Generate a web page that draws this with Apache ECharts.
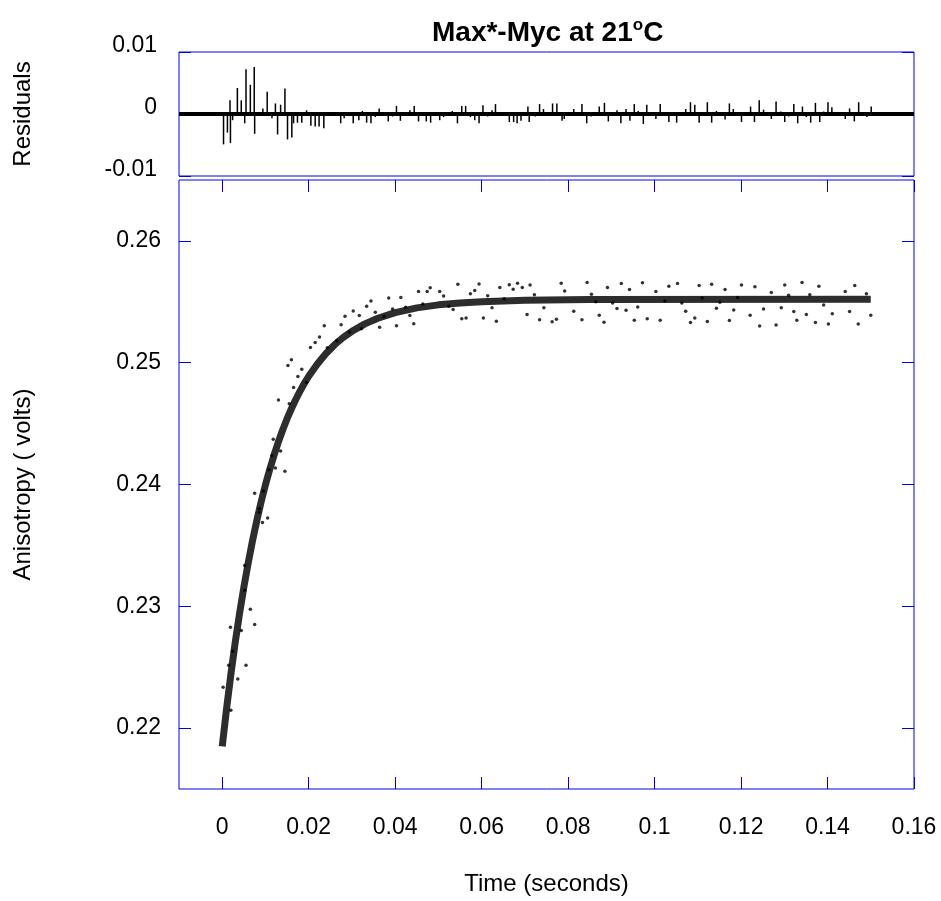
<!DOCTYPE html>
<html><head><meta charset="utf-8">
<script src="https://cdn.jsdelivr.net/npm/echarts@6/dist/echarts.min.js"></script>
<style>html,body{margin:0;padding:0;background:#fff}#c{width:941px;height:901px}</style>
</head><body><div id="c"></div>
<script>
// ---- data ----
const xTickValues = [0, 0.02, 0.04, 0.06, 0.08, 0.1, 0.12, 0.14, 0.16];
const xTickLabels = ['0', '0.02', '0.04', '0.06', '0.08', '0.1', '0.12', '0.14', '0.16'];
const yTickValues = [0.22, 0.23, 0.24, 0.25, 0.26];
const yTickLabels = ['0.22', '0.23', '0.24', '0.25', '0.26'];
const resTickValues = [-0.01, 0, 0.01];
const resTickLabels = ['-0.01', '0', '0.01'];

// measured anisotropy points [time (s), volts]
const anisotropyPoints = [
[0.0002,0.22336],[0.0015,0.22515],[0.0019,0.22829],[0.0020,0.22146],[0.0024,0.22631],[0.0036,0.22403],
[0.0044,0.22802],[0.0052,0.23336],[0.0052,0.23132],[0.0055,0.22515],[0.0065,0.22976],[0.0075,0.23929],
[0.0075,0.22850],[0.0085,0.23772],[0.0086,0.23802],[0.0093,0.23688],[0.0095,0.23946],[0.0105,0.23724],
[0.0108,0.24122],[0.0115,0.24236],[0.0118,0.24371],[0.0123,0.24135],[0.0130,0.24693],[0.0135,0.24276],
[0.0145,0.24108],[0.0152,0.24976],[0.0155,0.24663],[0.0160,0.25024],[0.0165,0.24797],[0.0175,0.24886],
[0.0184,0.24946],[0.0195,0.24837],[0.0204,0.25124],[0.0215,0.25165],[0.0225,0.25211],[0.0236,0.25303],
[0.0243,0.25122],[0.0265,0.25181],[0.0275,0.25311],[0.0284,0.25382],[0.0294,0.25252],[0.0303,0.25425],
[0.0317,0.25387],[0.0322,0.25279],[0.0334,0.25463],[0.0344,0.25506],[0.0354,0.25414],[0.0364,0.25292],
[0.0374,0.25379],[0.0385,0.25531],[0.0394,0.25441],[0.0403,0.25303],[0.0413,0.25536],[0.0424,0.25455],
[0.0434,0.25387],[0.0443,0.25320],[0.0454,0.25585],[0.0464,0.25482],[0.0474,0.25585],[0.0481,0.25615],
[0.0503,0.25585],[0.0512,0.25547],[0.0524,0.25463],[0.0534,0.25436],[0.0545,0.25645],[0.0554,0.25360],
[0.0564,0.25368],[0.0574,0.25566],[0.0584,0.25593],[0.0594,0.25647],[0.0604,0.25368],[0.0614,0.25550],
[0.0624,0.25452],[0.0634,0.25341],[0.0642,0.25618],[0.0652,0.25526],[0.0664,0.25639],[0.0673,0.25604],
[0.0683,0.25653],[0.0694,0.25618],[0.0705,0.25395],[0.0712,0.25637],[0.0722,0.25558],[0.0734,0.25352],
[0.0744,0.25452],[0.0763,0.25336],[0.0773,0.25357],[0.0784,0.25653],[0.0792,0.25588],[0.0813,0.25423],
[0.0832,0.25352],[0.0844,0.25658],[0.0854,0.25561],[0.0864,0.25501],[0.0872,0.25390],[0.0883,0.25333],
[0.0891,0.25618],[0.0903,0.25490],[0.0913,0.25444],[0.0923,0.25650],[0.0934,0.25431],[0.0942,0.25601],
[0.0953,0.25349],[0.0961,0.25458],[0.0972,0.25656],[0.0983,0.25360],[0.1003,0.25585],[0.1013,0.25349],
[0.1024,0.25507],[0.1033,0.25628],[0.1053,0.25650],[0.1063,0.25490],[0.1072,0.25423],[0.1083,0.25330],
[0.1093,0.25368],[0.1103,0.25634],[0.1110,0.25531],[0.1122,0.25339],[0.1132,0.25645],[0.1143,0.25447],
[0.1151,0.25496],[0.1163,0.25601],[0.1173,0.25347],[0.1183,0.25433],[0.1192,0.25536],[0.1201,0.25637],
[0.1221,0.25390],[0.1232,0.25623],[0.1243,0.25301],[0.1252,0.25441],[0.1270,0.25577],[0.1281,0.25309],
[0.1293,0.25452],[0.1301,0.25637],[0.1310,0.25553],[0.1322,0.25420],[0.1329,0.25349],[0.1341,0.25658],
[0.1351,0.25395],[0.1359,0.25558],[0.1372,0.25330],[0.1380,0.25628],[0.1391,0.25474],[0.1402,0.25317],
[0.1411,0.25401],[0.1441,0.25585],[0.1451,0.25420],[0.1463,0.25634],[0.1471,0.25317],[0.1490,0.25566],
[0.1500,0.25390]
];

// fitted curve [time (s), volts]
const fitCurve = [
[0,0.21850],[0.001,0.22159],[0.002,0.22442],[0.003,0.22702],[0.004,0.22939],[0.005,0.23156],
[0.006,0.23355],[0.007,0.23538],[0.008,0.23705],[0.009,0.23858],[0.010,0.23998],[0.011,0.24126],
[0.012,0.24243],[0.013,0.24351],[0.014,0.24449],[0.015,0.24540],[0.016,0.24622],[0.017,0.24698],
[0.018,0.24767],[0.019,0.24831],[0.020,0.24889],[0.022,0.24990],[0.024,0.25076],[0.026,0.25148],
[0.028,0.25208],[0.030,0.25258],[0.033,0.25319],[0.036,0.25365],[0.040,0.25411],[0.045,0.25450],
[0.050,0.25475],[0.055,0.25491],[0.060,0.25501],[0.070,0.25512],[0.085,0.25518],[0.150,0.25520]
];

// residuals [time (s), residual]
const residuals = [
[0.0003,-0.0049],[0.0012,-0.0030],[0.0018,0.0022],[0.0019,-0.0047],[0.0024,-0.0010],[0.0035,0.0042],
[0.0044,0.0022],[0.0052,-0.0015],[0.0055,0.0072],[0.0065,0.0047],[0.0074,0.0076],[0.0075,-0.0032],
[0.0094,0.0009],[0.0104,0.0036],[0.0115,-0.0007],[0.0123,0.0017],[0.0128,-0.0033],[0.0135,0.0015],
[0.0145,0.0041],[0.0151,-0.0041],[0.0161,-0.0038],[0.0165,-0.0015],[0.0174,-0.0014],[0.0184,-0.0014],
[0.0195,0.0006],[0.0205,-0.0019],[0.0215,-0.0020],[0.0224,-0.0020],[0.0235,-0.0023],[0.0244,-0.0003],
[0.0265,-0.0002],[0.0274,-0.0015],[0.0282,-0.0007],[0.0303,-0.0015],[0.0316,-0.0010],[0.0324,0.0005],
[0.0334,-0.0014],[0.0344,-0.0015],[0.0354,-0.0005],[0.0363,0.0009],[0.0384,-0.0012],[0.0394,-0.0004],
[0.0403,0.0013],[0.0412,-0.0011],[0.0434,0.0006],[0.0444,0.0013],[0.0454,-0.0012],[0.0464,-0.0002],
[0.0472,-0.0012],[0.0482,-0.0014],[0.0503,-0.0010],[0.0512,-0.0005],[0.0532,0.0005],[0.0544,-0.0015],
[0.0554,0.0013],[0.0563,0.0013],[0.0574,-0.0005],[0.0584,-0.0010],[0.0594,-0.0015],[0.0603,0.0014],
[0.0614,-0.0004],[0.0624,0.0006],[0.0632,0.0016],[0.0664,-0.0013],[0.0674,-0.0013],[0.0682,-0.0015],
[0.0691,-0.0011],[0.0707,0.0012],[0.0710,-0.0013],[0.0724,-0.0004],[0.0734,0.0016],[0.0743,0.0008],
[0.0764,0.0017],[0.0774,0.0017],[0.0786,-0.0011],[0.0791,-0.0008],[0.0813,0.0008],[0.0832,0.0016],
[0.0843,-0.0015],[0.0853,-0.0004],[0.0872,0.0012],[0.0884,0.0018],[0.0893,-0.0012],[0.0913,0.0006],
[0.0922,-0.0015],[0.0934,0.0008],[0.0943,-0.0011],[0.0953,0.0016],[0.0962,0.0005],[0.0974,-0.0016],
[0.0982,0.0015],[0.1003,-0.0008],[0.1013,0.0016],[0.1033,-0.0013],[0.1051,-0.0014],[0.1072,0.0008],
[0.1083,0.0019],[0.1093,0.0015],[0.1103,-0.0014],[0.1122,0.0019],[0.1132,-0.0014],[0.1143,0.0005],
[0.1163,-0.0009],[0.1173,0.0017],[0.1182,0.0008],[0.1201,-0.0013],[0.1222,0.0012],[0.1231,-0.0013],
[0.1242,0.0022],[0.1252,0.0007],[0.1270,-0.0008],[0.1281,0.0020],[0.1292,0.0004],[0.1301,-0.0013],
[0.1310,-0.0004],[0.1322,0.0016],[0.1331,-0.0015],[0.1342,0.0012],[0.1351,-0.0005],[0.1361,-0.0014],
[0.1372,0.0018],[0.1382,-0.0013],[0.1391,0.0004],[0.1401,0.0019],[0.1410,0.0011],[0.1441,-0.0008],
[0.1451,0.0009],[0.1462,-0.0012],[0.1472,0.0019],[0.1491,-0.0005],[0.1501,0.0012]
];

// ---- chart ----
const FONT = '"Liberation Sans", Arial, Helvetica, sans-serif';
const BLUE = '#0000ee';
function lookup(values, labels) {
  return function (v) {
    for (let i = 0; i < values.length; i++) if (Math.abs(values[i] - v) < 1e-9) return labels[i];
    return '';
  };
}
const tickStyle = { show: true, inside: true, length: 12, lineStyle: { color: BLUE, width: 1 } };
const noLine = { show: false, onZero: false };
const labelStyle = { color: '#000', fontFamily: FONT, fontSize: 23 };
const nameStyle = { color: '#000', fontFamily: FONT, fontSize: 24 };

const chart = echarts.init(document.getElementById('c'), null, { renderer: 'canvas' });
chart.setOption({
  animation: false,
  backgroundColor: '#fff',
  title: {
    text: '{m|Max*-Myc at 21}{s|o}{m|C}',
    left: 427, top: 12,
    textStyle: {
      rich: {
        m: { fontFamily: FONT, fontSize: 28, fontWeight: 'bold', color: '#000', lineHeight: 32 },
        s: { fontFamily: FONT, fontSize: 17, fontWeight: 'bold', color: '#000', verticalAlign: 'top', lineHeight: 18 }
      }
    }
  },
  grid: [
    { left: 179, right: 27, top: 52, height: 124, show: true, borderColor: BLUE, borderWidth: 1, backgroundColor: 'transparent' },
    { left: 179, right: 27, top: 180, height: 614, show: true, borderColor: BLUE, borderWidth: 1, backgroundColor: 'transparent' }
  ],
  xAxis: [
    { gridIndex: 0, type: 'value', min: -0.01, max: 0.16, axisLine: noLine, axisTick: { show: false },
      axisLabel: { show: false }, splitLine: { show: false } },
    { gridIndex: 1, type: 'value', min: -0.01, max: 0.16, position: 'bottom',
      axisLine: noLine,
      axisTick: Object.assign({ customValues: xTickValues }, tickStyle),
      axisLabel: Object.assign({ customValues: xTickValues, margin: 27, formatter: lookup(xTickValues, xTickLabels) }, labelStyle),
      splitLine: { show: false },
      name: 'Time (seconds)', nameLocation: 'middle', nameGap: 83, nameTextStyle: nameStyle },
    { gridIndex: 1, type: 'value', min: -0.01, max: 0.16, position: 'top',
      axisLine: noLine,
      axisTick: Object.assign({ customValues: xTickValues }, tickStyle),
      axisLabel: { show: false }, splitLine: { show: false } }
  ],
  yAxis: [
    { gridIndex: 0, type: 'value', min: -0.01, max: 0.01, position: 'left',
      axisLine: noLine,
      axisTick: Object.assign({ customValues: resTickValues }, tickStyle),
      axisLabel: Object.assign({ customValues: resTickValues, margin: 22, verticalAlign: 'bottom', lineHeight: 12,
        formatter: lookup(resTickValues, resTickLabels) }, labelStyle),
      splitLine: { show: false },
      name: 'Residuals', nameLocation: 'middle', nameGap: 144, nameTextStyle: nameStyle },
    { gridIndex: 0, type: 'value', min: -0.01, max: 0.01, position: 'right',
      axisLine: noLine,
      axisTick: Object.assign({ customValues: resTickValues }, tickStyle),
      axisLabel: { show: false }, splitLine: { show: false } },
    { gridIndex: 1, type: 'value', min: 0.215, max: 0.265, position: 'left',
      axisLine: noLine,
      axisTick: Object.assign({ customValues: yTickValues }, tickStyle),
      axisLabel: Object.assign({ customValues: yTickValues, margin: 18, padding: [4, 0, 0, 0], formatter: lookup(yTickValues, yTickLabels) }, labelStyle),
      splitLine: { show: false },
      name: 'Anisotropy ( volts)', nameLocation: 'middle', nameGap: 144, nameTextStyle: nameStyle },
    { gridIndex: 1, type: 'value', min: 0.215, max: 0.265, position: 'right',
      axisLine: noLine,
      axisTick: Object.assign({ customValues: yTickValues }, tickStyle),
      axisLabel: { show: false }, splitLine: { show: false } }
  ],
  series: [
    { name: 'residuals', type: 'bar', xAxisIndex: 0, yAxisIndex: 0, data: residuals, barWidth: 1.5,
      itemStyle: { color: '#000' }, silent: true,
      markLine: { silent: true, symbol: ['none', 'none'], label: { show: false },
        lineStyle: { color: '#000', width: 4, type: 'solid' }, data: [{ yAxis: 0 }] } },
    { name: 'fit', type: 'line', xAxisIndex: 1, yAxisIndex: 2, data: fitCurve, smooth: false,
      showSymbol: false, symbol: 'none', lineStyle: { color: '#2d2d2d', width: 7, cap: 'butt', join: 'round' }, z: 2 },
    { name: 'data', type: 'scatter', xAxisIndex: 1, yAxisIndex: 2, data: anisotropyPoints, symbolSize: 3.5,
      itemStyle: { color: '#000' }, z: 3 }
  ]
});
</script>
</body></html>
